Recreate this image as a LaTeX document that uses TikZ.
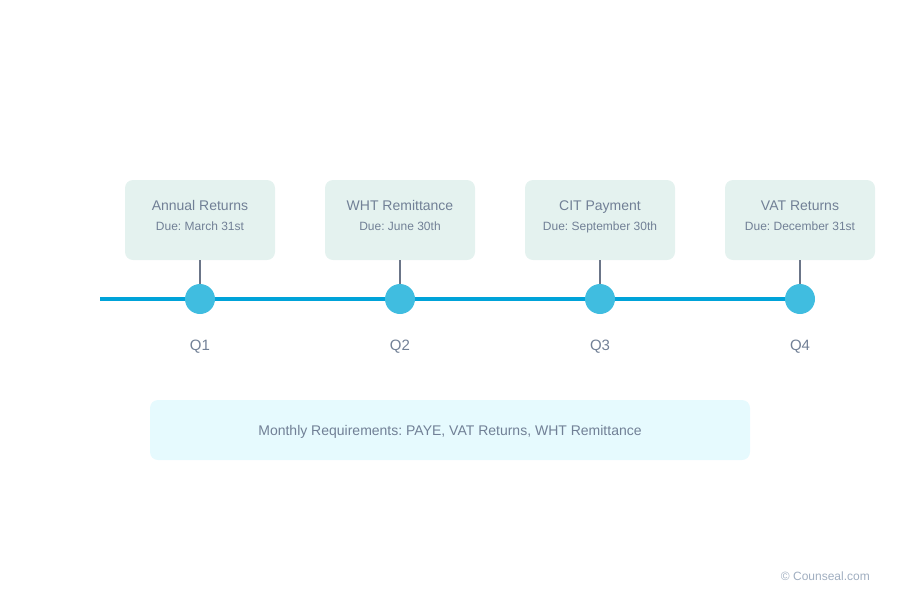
\documentclass[tikz,border=0pt]{standalone}
\usepackage{fontspec}
\setmainfont{Liberation Sans}
\frenchspacing
\definecolor{boxfill}{HTML}{E4F2EF}
\definecolor{monthfill}{HTML}{E6FAFE}
\definecolor{txt}{HTML}{718096}
\definecolor{stem}{HTML}{6B7588}
\definecolor{tl}{HTML}{00A3D9}
\definecolor{dot}{HTML}{40BDE0}
\definecolor{foot}{HTML}{A0AEC0}
\tikzset{
  qbox/.style={fill=boxfill, rounded corners=8pt, minimum width=150pt, minimum height=80pt, inner sep=0pt},
  ttl/.style={text=txt, font=\fontsize{14}{16}\selectfont, inner sep=0pt, anchor=base},
  due/.style={text=txt, font=\fontsize{12}{14}\selectfont, inner sep=0pt, anchor=base},
  qlab/.style={text=txt, font=\fontsize{15}{17}\selectfont, inner sep=0pt, anchor=base},
  dotn/.style={circle, fill=dot, minimum size=30pt, inner sep=0pt},
  stemline/.style={draw=stem, line width=2pt},
  tline/.style={draw=tl, line width=4pt},
}
\begin{document}
\begin{tikzpicture}[x=1pt,y=-1pt]
\useasboundingbox (0,0) rectangle (900,600);
\coordinate (start) at (100,299);
\foreach \i/\x/\t/\d in {1/200/Annual Returns/Due: March 31st,2/400/WHT Remittance/Due: June 30th,3/600/CIT Payment/Due: September 30th,4/800/VAT Returns/Due: December 31st}{
  \node[qbox] (b\i) at (\x,220) {};
  \node[ttl] (t\i) at (\x,210) {\t};
  \node[due] (d\i) at (\x,230) {\d};
  \node[qlab] (q\i) at (\x,350) {Q\i};
}
\draw[tline] (start) -- (800,299);
\foreach \i/\x in {1/200,2/400,3/600,4/800}{
  \node[dotn] (c\i) at (\x,299) {};
  \draw[stemline] (b\i.south) -- (c\i.north);
}
\node[fill=monthfill, rounded corners=8pt, minimum width=600pt, minimum height=60pt, inner sep=0pt] (m) at (450,430) {};
\node[text=txt, font=\fontsize{14}{16}\selectfont, inner sep=0pt, anchor=base] (mt) at (450,435) {Monthly Requirements: PAYE, VAT Returns, WHT Remittance};
\node[text=foot, font=\fontsize{12}{14}\selectfont, inner sep=0pt, anchor=base east] (f) at (870,580) {© Counseal.com};
\end{tikzpicture}
\end{document}
